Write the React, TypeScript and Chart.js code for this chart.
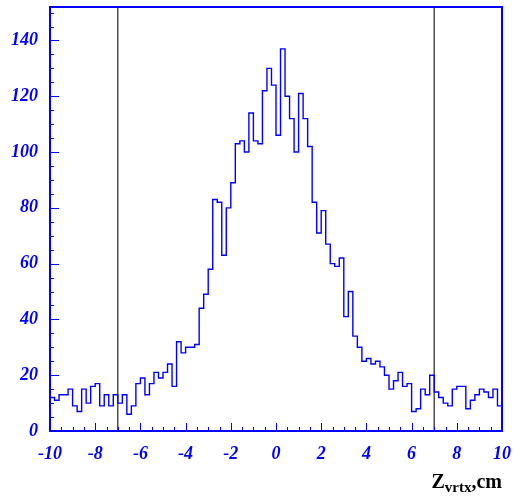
import React, { useEffect, useRef } from 'react';
import { Chart, registerables } from 'chart.js';

Chart.register(...registerables);

// Bin low edges (cm), plus the final upper edge
const binEdges = [
  -10, -9.8, -9.6, -9.4, -9.2, -9, -8.8, -8.6, -8.4, -8.2,
  -8, -7.8, -7.6, -7.4, -7.2, -7, -6.8, -6.6, -6.4, -6.2,
  -6, -5.8, -5.6, -5.4, -5.2, -5, -4.8, -4.6, -4.4, -4.2,
  -4, -3.8, -3.6, -3.4, -3.2, -3, -2.8, -2.6, -2.4, -2.2,
  -2, -1.8, -1.6, -1.4, -1.2, -1, -0.8, -0.6, -0.4, -0.2,
  0, 0.2, 0.4, 0.6, 0.8, 1, 1.2, 1.4, 1.6, 1.8,
  2, 2.2, 2.4, 2.6, 2.8, 3, 3.2, 3.4, 3.6, 3.8,
  4, 4.2, 4.4, 4.6, 4.8, 5, 5.2, 5.4, 5.6, 5.8,
  6, 6.2, 6.4, 6.6, 6.8, 7, 7.2, 7.4, 7.6, 7.8,
  8, 8.2, 8.4, 8.6, 8.8, 9, 9.2, 9.4, 9.6, 9.8,
  10,
];

// Entries per bin
const binCounts = [
  12, 11, 13, 13, 15, 9, 7, 15, 10, 16,
  17, 9, 13, 9, 13, 10, 13, 6, 9, 17,
  19, 13, 17, 21, 19, 21, 24, 16, 32, 28,
  30, 30, 31, 44, 49, 58, 83, 82, 63, 80,
  89, 103, 104, 100, 114, 104, 103, 122, 130, 124,
  106, 137, 120, 112, 100, 121, 112, 102, 82, 71,
  79, 67, 60, 59, 62, 41, 50, 34, 30, 25,
  26, 24, 25, 23, 20, 15, 18, 21, 16, 17,
  7, 8, 15, 13, 20, 14, 12, 10, 9, 15,
  16, 16, 8, 11, 13, 15, 14, 12, 15, 9,
];

// Cut positions (vertical lines)
const cutLines = [-7, 7];

const xTickLabels = ['-10', '-8', '-6', '-4', '-2', '0', '2', '4', '6', '8', '10'];
const yTickLabels = ['0', '20', '40', '60', '80', '100', '120', '140'];

const X_MIN = -10;
const X_MAX = 10;
const Y_MIN = 0;
const Y_MAX = 152;

const BLUE = '#0000ff';
const FONT_FAMILY = '"Liberation Serif", "Times New Roman", Times, serif';

const framePlugin = {
  id: 'frameTicks',
  afterDatasetsDraw(chart: any) {
    const { ctx, chartArea, scales } = chart;
    const { left, right, top, bottom } = chartArea;
    const xs = scales.x;
    const ys = scales.y;
    ctx.save();
    ctx.strokeStyle = BLUE;
    ctx.lineWidth = 1;
    // x ticks: minor every 0.5, major every 2
    for (let k = 0; k <= 40; k++) {
      const v = X_MIN + k * 0.5;
      const px = Math.round(xs.getPixelForValue(v)) + 0.5;
      const major = Math.abs(v % 2) < 1e-9;
      const len = major ? 8 : 4;
      ctx.beginPath();
      ctx.moveTo(px, bottom);
      ctx.lineTo(px, bottom - len);
      ctx.stroke();
    }
    // y ticks: minor every 5, major every 20
    for (let k = 0; k <= 30; k++) {
      const v = Y_MIN + k * 5;
      if (v > Y_MAX) break;
      const py = Math.round(ys.getPixelForValue(v)) + 0.5;
      const major = v % 20 === 0;
      const len = major ? 9 : 4;
      ctx.beginPath();
      ctx.moveTo(left, py);
      ctx.lineTo(left + len, py);
      ctx.stroke();
    }
    // frame
    ctx.lineWidth = 2;
    ctx.strokeRect(left, top, right - left, bottom - top);

    // axis title Z_vrtx,cm
    const mainFont = `bold 20px ${FONT_FAMILY}`;
    const subFont = `bold 15px ${FONT_FAMILY}`;
    ctx.fillStyle = '#000000';
    ctx.textBaseline = 'alphabetic';
    ctx.textAlign = 'left';
    ctx.font = mainFont;
    const wZ = ctx.measureText('Z').width;
    const wRest = ctx.measureText(',cm').width;
    ctx.font = subFont;
    const wSub = ctx.measureText('vrtx').width;
    const total = wZ + wSub + wRest;
    const x0 = right - total;
    const base = 488;
    ctx.font = mainFont;
    ctx.fillText('Z', x0, base);
    ctx.font = subFont;
    ctx.fillText('vrtx', x0 + wZ, base + 4);
    ctx.font = mainFont;
    ctx.fillText(',cm', x0 + wZ + wSub, base);
    ctx.restore();
  },
};

export default function App() {
  const canvasRef = useRef<HTMLCanvasElement | null>(null);

  useEffect(() => {
    const canvas = canvasRef.current;
    if (!canvas) return;

    const histPoints = binCounts.map((c, i) => ({ x: binEdges[i], y: c }));
    histPoints.push({ x: binEdges[binEdges.length - 1], y: binCounts[binCounts.length - 1] });

    const cutDatasets = cutLines.map((c) => ({
      type: 'line' as const,
      data: [
        { x: c, y: Y_MIN },
        { x: c, y: Y_MAX },
      ],
      borderColor: '#222222',
      borderWidth: 1.2,
      pointRadius: 0,
      fill: false,
      tension: 0,
    }));

    const tickFont = { family: FONT_FAMILY, size: 18, weight: 'bold' as const, style: 'italic' as const };

    const chart = new Chart(canvas, {
      type: 'line',
      data: {
        datasets: [
          {
            data: histPoints,
            borderColor: BLUE,
            borderWidth: 1.4,
            pointRadius: 0,
            stepped: 'before',
            fill: false,
          } as any,
          ...cutDatasets,
        ],
      },
      options: {
        animation: false,
        responsive: false,
        devicePixelRatio: 1,
        layout: { padding: { top: 7, right: 13, left: 0, bottom: 0 } },
        plugins: { legend: { display: false }, tooltip: { enabled: false }, title: { display: false } },
        scales: {
          x: {
            type: 'linear',
            position: 'bottom',
            min: X_MIN,
            max: X_MAX,
            grid: { display: false, drawTicks: false },
            border: { display: false },
            ticks: {
              stepSize: 2,
              autoSkip: false,
              maxRotation: 0,
              includeBounds: false,
              padding: 13,
              color: BLUE,
              font: tickFont,
              callback: (v: any) => {
                const s = String(Math.round(Number(v) * 1000) / 1000);
                return xTickLabels.includes(s) ? s : null;
              },
            },
            afterFit: (scale: any) => {
              scale.height = 68;
              scale.paddingLeft = 0;
              scale.paddingRight = 0;
            },
          },
          y: {
            type: 'linear',
            position: 'left',
            min: Y_MIN,
            max: Y_MAX,
            grid: { display: false, drawTicks: false },
            border: { display: false },
            ticks: {
              stepSize: 20,
              autoSkip: false,
              includeBounds: false,
              padding: 12,
              color: BLUE,
              font: tickFont,
              callback: (v: any) => {
                const s = String(v);
                return yTickLabels.includes(s) ? s : null;
              },
            },
            afterFit: (scale: any) => {
              scale.width = 50;
              scale.paddingTop = 0;
              scale.paddingBottom = 0;
            },
          },
        },
      },
      plugins: [framePlugin],
    });

    return () => {
      chart.destroy();
    };
  }, []);

  return (
    <div style={{ position: 'fixed', left: 0, top: 0, width: 515, height: 499, background: '#ffffff' }}>
      <canvas ref={canvasRef} width={515} height={499} style={{ display: 'block', width: 515, height: 499 }} />
    </div>
  );
}
